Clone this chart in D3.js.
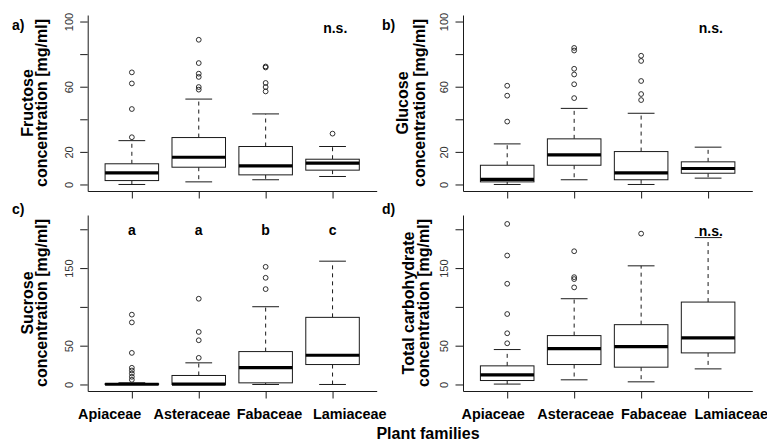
<!DOCTYPE html>
<html>
<head>
<meta charset="utf-8">
<script src="https://cdn.jsdelivr.net/npm/d3@7"></script>
<style>
  html, body { margin: 0; padding: 0; background: #fff; }
  svg { display: block; font-family: "Liberation Sans", Arial, Helvetica, sans-serif; }
</style>
</head>
<body>
<svg id="chart" width="767" height="441"></svg>
<script>
// ---------- data ----------
const categories = ["Apiaceae", "Asteraceae", "Fabaceae", "Lamiaceae"];

// box stats per category: [lower whisker, Q1, median, Q3, upper whisker]
const fructoseStats = [[0, 2.4, 7.1, 12.7, 26.9], [1.6, 10.6, 16.7, 28.8, 52.4], [2.9, 5.9, 11.4, 23.3, 43.3], [4.9, 8.8, 13.1, 15.5, 23.3]];
const fructoseOutliers = [[68.8, 62, 46.3, 29], [88.8, 74.5, 68, 66, 59.8, 58.2], [72.4, 71.8, 62.3, 59.8, 57.1], [31.2]];

const glucoseStats = [[0, 1.6, 3.1, 11.8, 24.9], [2.9, 11.8, 18.2, 28, 46.7], [0, 2.9, 7.1, 20.2, 43.7], [3.9, 6.9, 9.8, 13.9, 22.9]];
const glucoseOutliers = [[60.6, 54.5, 38.6], [83.8, 82.2, 71, 67.5, 61.5, 53], [79, 75.8, 63.5, 55.5, 51.8], []];

const sucroseStats = [[0, 0, 0.3, 1, 2.2], [0, 0, 0.5, 11.6, 27.9], [0, 2.1, 21.8, 42.4, 100.2], [0, 25.7, 37.7, 86.5, 158.9]];
const sucroseOutliers = [[90, 80, 40.7, 21.5, 18, 14.1, 9.9, 6], [110.5, 67.7, 57, 34.3], [151.6, 137.5, 122.9], []];

const totalStats = [[0.5, 5.1, 12.4, 24, 45], [6, 25.7, 46.3, 63, 110.5], [3.4, 22.3, 48.8, 77.1, 152.9], [20.1, 40.7, 60, 106.2, 189.3]];
const totalOutliers = [[206.9, 166.2, 129.8, 90.8, 66, 53.1], [171.7, 138.3, 135.8, 125.1], [194.4], []];

const topTicks = [0, 20, 40, 60, 80, 100];
const topTickLabels = ["0", "20", "", "60", "", "100"];
const bottomTicks = [0, 50, 100, 150, 200];
const bottomTickLabels = ["0", "50", "", "150", ""];

const sigA = ["", "", "", "n.s."];
const sigB = ["", "", "", "n.s."];
const sigC = ["a", "a", "b", "c"];
const sigD = ["", "", "", "n.s."];

const xAxisTitle = "Plant families";

// ---------- layout ----------
const svg = d3.select("#chart");
svg.append("rect").attr("width", 767).attr("height", 441).attr("fill", "#fff");

const panels = [
  { tag: "a)", title: ["Fructose", "concentration [mg/ml]"], stats: fructoseStats, out: fructoseOutliers, sig: sigA,
    x0: 87.7, x1: 376.7, y0: 15, y1: 191, ymax: 100, ticks: topTicks, tickLabels: topTickLabels, showCats: false,
    tagX: 12, tagY: 30, t1: 54.4, t2: 41, sigY: 33, catShift: [0, 0, 0, 0] },
  { tag: "b)", title: ["Glucose", "concentration [mg/ml]"], stats: glucoseStats, out: glucoseOutliers, sig: sigB,
    x0: 463, x1: 752.3, y0: 15, y1: 191, ymax: 100, ticks: topTicks, tickLabels: topTickLabels, showCats: false,
    tagX: 382, tagY: 30, t1: 55, t2: 38, sigY: 33, catShift: [0, 0, 0, 0] },
  { tag: "c)", title: ["Sucrose", "concentration [mg/ml]"], stats: sucroseStats, out: sucroseOutliers, sig: sigC,
    x0: 87.7, x1: 376.7, y0: 215, y1: 391, ymax: 210, ticks: bottomTicks, tickLabels: bottomTickLabels, showCats: true,
    tagX: 12, tagY: 214, t1: 54.4, t2: 41, sigY: 235, catShift: [-22.7, -7.3, 3.3, 16.7] },
  { tag: "d)", title: ["Total carbohydrate", "concentration [mg/ml]"], stats: totalStats, out: totalOutliers, sig: sigD,
    x0: 463, x1: 752.3, y0: 215, y1: 391, ymax: 210, ticks: bottomTicks, tickLabels: bottomTickLabels, showCats: true,
    tagX: 382, tagY: 214, t1: 49, t2: 34, sigY: 236, catShift: [-14.5, 1, 12.2, 22.7] }
];

const ink = "#1a1a1a";

panels.forEach(p => {
  const ext = p.ymax * 0.04;
  const y = d3.scaleLinear().domain([-ext, p.ymax + ext]).range([p.y1, p.y0]);
  const x = d3.scaleLinear().domain([0.34, 4.66]).range([p.x0, p.x1]);
  const g = svg.append("g");

  // y axis
  const ya = g.append("g").attr("transform", `translate(${p.x0},0)`)
    .call(d3.axisLeft(y).tickValues(p.ticks).tickSizeOuter(0).tickSizeInner(7.5)
      .tickFormat((d, i) => p.tickLabels[i]));
  ya.select(".domain").attr("stroke", ink).attr("stroke-width", 1);
  ya.selectAll(".tick line").attr("stroke", ink).attr("stroke-width", 1);
  ya.selectAll(".tick text")
    .attr("transform", "rotate(-90)")
    .attr("x", 0).attr("y", -15).attr("dy", 0)
    .attr("text-anchor", "middle")
    .attr("fill", "#333").style("font-size", "11px").style("font-family", "Liberation Sans, Arial, sans-serif");

  // x axis
  const xa = g.append("g").attr("transform", `translate(0,${p.y1})`)
    .call(d3.axisBottom(x).tickValues([1, 2, 3, 4]).tickSizeOuter(0).tickSizeInner(7.5)
      .tickFormat((d, i) => p.showCats ? categories[i] : ""));
  xa.select(".domain").attr("stroke", ink).attr("stroke-width", 1);
  xa.selectAll(".tick line").attr("stroke", ink).attr("stroke-width", 1);
  xa.selectAll(".tick text")
    .attr("x", (d, i) => p.catShift[i])
    .attr("y", 27.5).attr("dy", 0)
    .attr("fill", "#000").style("font-size", "14.4px").style("font-weight", "bold")
    .style("font-family", "Liberation Sans, Arial, sans-serif");

  // boxes
  const bw = 0.8, cw = 0.4;
  p.stats.forEach((s, i) => {
    const cx = i + 1;
    const [lw, q1, med, q3, uw] = s;
    const bg = g.append("g");
    bg.append("line").attr("x1", x(cx)).attr("x2", x(cx)).attr("y1", y(q3)).attr("y2", y(uw))
      .attr("stroke", ink).attr("stroke-width", 1).attr("stroke-dasharray", "4,4");
    bg.append("line").attr("x1", x(cx)).attr("x2", x(cx)).attr("y1", y(q1)).attr("y2", y(lw))
      .attr("stroke", ink).attr("stroke-width", 1).attr("stroke-dasharray", "4,4");
    [lw, uw].forEach(v => {
      bg.append("line").attr("x1", x(cx - cw / 2)).attr("x2", x(cx + cw / 2)).attr("y1", y(v)).attr("y2", y(v))
        .attr("stroke", ink).attr("stroke-width", 1);
    });
    bg.append("rect").attr("x", x(cx - bw / 2)).attr("width", x(cx + bw / 2) - x(cx - bw / 2))
      .attr("y", y(q3)).attr("height", Math.max(0.01, y(q1) - y(q3)))
      .attr("fill", "#fff").attr("stroke", ink).attr("stroke-width", 1);
    bg.append("line").attr("x1", x(cx - bw / 2)).attr("x2", x(cx + bw / 2)).attr("y1", y(med)).attr("y2", y(med))
      .attr("stroke", "#000").attr("stroke-width", 3.2);
    bg.selectAll("circle.o").data(p.out[i]).enter().append("circle")
      .attr("cx", x(cx)).attr("cy", d => y(d)).attr("r", 2.4)
      .attr("fill", "none").attr("stroke", ink).attr("stroke-width", 0.9);
  });

  // significance labels
  p.sig.forEach((t, i) => {
    if (!t) return;
    g.append("text").attr("x", x(i + 1 + (t === "n.s." ? 0.04 : 0))).attr("y", p.sigY)
      .attr("text-anchor", "middle").style("font-size", "14px").style("font-weight", "bold").text(t);
  });

  // panel tag
  g.append("text").attr("x", p.tagX).attr("y", p.tagY).style("font-size", "14px").style("font-weight", "bold").text(p.tag);

  // y title (two lines, rotated)
  const cy = (p.y0 + p.y1) / 2;
  [[p.title[0], p.t1], [p.title[1], p.t2]].forEach(([t, off]) => {
    g.append("text").attr("transform", `translate(${p.x0 - off},${cy}) rotate(-90)`)
      .attr("text-anchor", "middle").style("font-size", "16px").style("font-weight", "bold").text(t);
  });
});

// outer x title
svg.append("text").attr("x", 428).attr("y", 439).attr("text-anchor", "middle")
  .style("font-size", "16px").style("font-weight", "bold").text(xAxisTitle);
</script>
</body>
</html>
